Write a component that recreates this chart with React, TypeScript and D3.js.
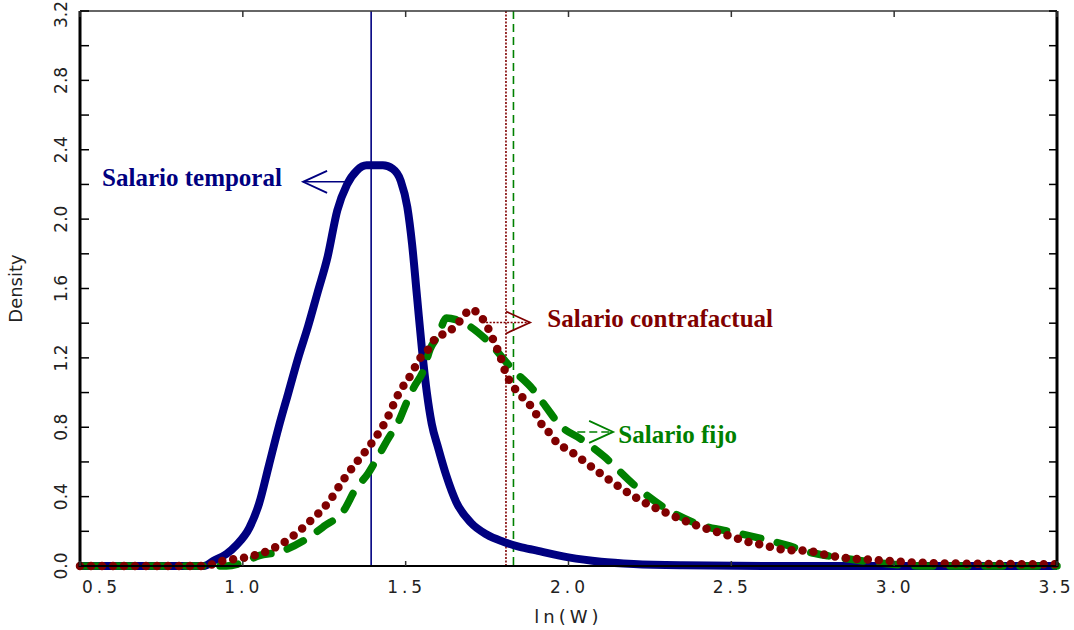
import React from "react";
import * as d3 from "d3";

// density of ln(W) as [x, y]
const temporal: [number, number][] = [
  [0.5, 0], [0.88, 0], [0.91, 0.03], [0.95, 0.07], [0.98, 0.12], [1.02, 0.22],
  [1.05, 0.36], [1.08, 0.58], [1.11, 0.8], [1.14, 1.0], [1.17, 1.2], [1.2, 1.38],
  [1.23, 1.58], [1.26, 1.78], [1.29, 2.05], [1.32, 2.2], [1.35, 2.28], [1.38, 2.31],
  [1.43, 2.31], [1.46, 2.29], [1.485, 2.22], [1.505, 2.07], [1.52, 1.85], [1.535, 1.55],
  [1.55, 1.25], [1.565, 1.0], [1.58, 0.82], [1.6, 0.68], [1.625, 0.52], [1.655, 0.37],
  [1.7, 0.25], [1.75, 0.18], [1.8, 0.14], [1.85, 0.11], [1.9, 0.09], [2.0, 0.05],
  [2.1, 0.025], [2.2, 0.012], [2.35, 0.004], [2.6, 0], [3.5, 0],
];

const contrafactual: [number, number][] = [
  [0.5, 0], [0.88, 0], [0.94, 0.03], [1.01, 0.05], [1.08, 0.09], [1.145, 0.16],
  [1.21, 0.265], [1.26, 0.36], [1.31, 0.5], [1.35, 0.6], [1.4, 0.72], [1.44, 0.84],
  [1.48, 1.0], [1.515, 1.1], [1.545, 1.2], [1.57, 1.25], [1.6, 1.33], [1.625, 1.34],
  [1.65, 1.38], [1.67, 1.42], [1.7, 1.48], [1.725, 1.45], [1.745, 1.4], [1.77, 1.3],
  [1.79, 1.21], [1.81, 1.1], [1.825, 1.05], [1.845, 1.0], [1.87, 0.95], [1.89, 0.91],
  [1.92, 0.81], [1.94, 0.77], [1.965, 0.71], [2.0, 0.67], [2.03, 0.63], [2.1, 0.53],
  [2.22, 0.38], [2.32, 0.29], [2.4, 0.23], [2.5, 0.17], [2.56, 0.135], [2.6, 0.12],
  [2.64, 0.1], [2.7, 0.09], [2.73, 0.088], [2.8, 0.06], [2.87, 0.042], [2.94, 0.035],
  [3.01, 0.025], [3.11, 0.017], [3.3, 0.012], [3.5, 0.01],
];

const fijo: [number, number][] = [
  [0.5, 0], [0.95, 0], [1.0, 0.02], [1.05, 0.06], [1.11, 0.08], [1.19, 0.15],
  [1.25, 0.23], [1.31, 0.32], [1.345, 0.44], [1.385, 0.535], [1.415, 0.63], [1.445, 0.73],
  [1.48, 0.84], [1.5, 0.93], [1.525, 1.03], [1.555, 1.13], [1.575, 1.25], [1.6, 1.33],
  [1.625, 1.43], [1.68, 1.4], [1.75, 1.3], [1.83, 1.13], [1.89, 1.02], [1.93, 0.92],
  [1.975, 0.81], [2.04, 0.73], [2.11, 0.63], [2.2, 0.47], [2.3, 0.33], [2.4, 0.24],
  [2.52, 0.19], [2.61, 0.15], [2.67, 0.12], [2.75, 0.075], [2.81, 0.055], [2.92, 0.025],
  [3.02, 0.006], [3.1, 0], [3.5, 0],
];

// means (vertical lines)
const means = [1.394, 1.808, 1.831];

const xTicks = [0.5, 1.0, 1.5, 2.0, 2.5, 3.0, 3.5];
const yTicks = [0, 0.4, 0.8, 1.2, 1.6, 2.0, 2.4, 2.8, 3.2];
const yMinorTicks = d3.range(0, 3.21, 0.2);

// label: [arrow tail x, arrow tip x, arrow y, text x, text y]
const labels = ["Salario temporal", "Salario contrafactual", "Salario fijo"];
const labelPos = [
  [1.336, 1.185, 2.215, 1.12, 2.19],
  [1.747, 1.882, 1.404, 1.935, 1.378],
  [2.027, 2.137, 0.773, 2.153, 0.709],
];

const colors = ["#000080", "#800000", "#008000"];

const width = 1074;
const height = 630;
const plot = { left: 80, right: 1057, top: 11, bottom: 566 };

export default function App() {
  const x = d3.scaleLinear().domain([0.5, 3.5]).range([plot.left, plot.right]);
  const y = d3.scaleLinear().domain([0, 3.2]).range([plot.bottom, plot.top]);

  const line = d3
    .line<[number, number]>()
    .x((d) => x(d[0]))
    .y((d) => y(d[1]))
    .curve(d3.curveMonotoneX);

  const tickFont = { fontFamily: "DejaVu Sans", fontSize: 17, fill: "#222" };
  const annFont = { fontFamily: "Liberation Serif", fontSize: 25, fontWeight: 700 };

  const meanDash = ["none", "2 1.5", "8 5"];
  const last = xTicks.length - 1;
  const yLast = yTicks.length - 1;

  return (
    <svg width={width} height={height} style={{ position: "absolute", left: 0, top: 0, background: "#fff" }}>
      {/* mean lines */}
      {means.map((m, i) => (
        <line
          key={"m" + i}
          x1={x(m)}
          x2={x(m)}
          y1={plot.top}
          y2={plot.bottom}
          stroke={colors[i]}
          strokeWidth={1.6}
          strokeDasharray={meanDash[i]}
        />
      ))}

      {/* curves */}
      <path d={line(temporal) ?? ""} fill="none" stroke={colors[0]} strokeWidth={8} strokeLinejoin="round" />
      <path
        d={line(fijo) ?? ""}
        fill="none"
        stroke={colors[2]}
        strokeWidth={7.5}
        strokeDasharray="18 17"
        strokeLinecap="round"
      />
      <path
        d={line(contrafactual) ?? ""}
        fill="none"
        stroke={colors[1]}
        strokeWidth={8.5}
        strokeDasharray="0 11"
        strokeLinecap="round"
      />

      {/* frame */}
      <line x1={plot.left} x2={plot.right} y1={plot.top} y2={plot.top} stroke="#333" strokeWidth={1.5} />
      <line x1={plot.left} x2={plot.right} y1={plot.bottom} y2={plot.bottom} stroke="#000" strokeWidth={2} />
      <line x1={plot.left} x2={plot.left} y1={plot.top} y2={plot.bottom + 1} stroke="#000" strokeWidth={3} />
      <line x1={plot.right} x2={plot.right} y1={plot.top} y2={plot.bottom + 1} stroke="#000" strokeWidth={3} />

      {/* y ticks, inward on both sides */}
      {yMinorTicks.map((t, i) => (
        <g key={"yt" + i}>
          <line x1={plot.left} x2={plot.left + 9} y1={y(t)} y2={y(t)} stroke="#000" strokeWidth={1.5} />
          <line x1={plot.right} x2={plot.right - 8} y1={y(t)} y2={y(t)} stroke="#000" strokeWidth={1.5} />
        </g>
      ))}
      {/* x ticks */}
      {xTicks.map((t, i) => (
        <g key={"xt" + i}>
          <line x1={x(t)} x2={x(t)} y1={plot.top} y2={plot.top + 6} stroke="#333" strokeWidth={1.5} />
          <line x1={x(t)} x2={x(t)} y1={plot.bottom} y2={plot.bottom - 5} stroke="#333" strokeWidth={1.5} />
        </g>
      ))}

      {/* y tick labels */}
      {yTicks.map((t, i) => (
        <text
          key={"yl" + i}
          transform={`translate(67,${i === yLast ? 1 : y(t)}) rotate(-90)`}
          textAnchor={i === yLast ? "end" : "middle"}
          {...tickFont}
        >
          {t.toFixed(1)}
        </text>
      ))}
      {/* x tick labels */}
      {xTicks.map((t, i) => (
        <text
          key={"xl" + i}
          x={i === 0 ? x(t) + 2 : i === last ? width - 1 : x(t) + 1}
          y={593}
          textAnchor={i === 0 ? "start" : i === last ? "end" : "middle"}
          letterSpacing={i === last ? 2.5 : 4}
          {...tickFont}
        >
          {t.toFixed(1)}
        </text>
      ))}

      <text transform={`translate(22,${(plot.top + plot.bottom) / 2}) rotate(-90)`} textAnchor="middle" {...tickFont} fontSize={18}>
        Density
      </text>
      <text x={x(2.0)} y={623} textAnchor="middle" letterSpacing={4} {...tickFont} fontSize={18}>
        ln(W)
      </text>

      {/* annotations */}
      {labels.map((lab, i) => {
        const [tail, tip, ay, tx, ty] = labelPos[i];
        const dir = tip > tail ? 1 : -1;
        const px = x(tip);
        const py = y(ay);
        return (
          <g key={"a" + i}>
            <line
              x1={x(tail)}
              x2={px}
              y1={py}
              y2={py}
              stroke={colors[i]}
              strokeWidth={1.5}
              strokeDasharray={i === 1 ? "2 1.5" : i === 2 ? "8 4" : "none"}
            />
            <polyline
              points={`${px - dir * 24},${py - 11} ${px},${py} ${px - dir * 24},${py + 11}`}
              fill="none"
              stroke={colors[i]}
              strokeWidth={1.8}
            />
            <text
              x={x(tx)}
              y={y(ty)}
              textAnchor={dir < 0 ? "end" : "start"}
              fill={colors[i]}
              {...annFont}
            >
              {lab}
            </text>
          </g>
        );
      })}
    </svg>
  );
}
